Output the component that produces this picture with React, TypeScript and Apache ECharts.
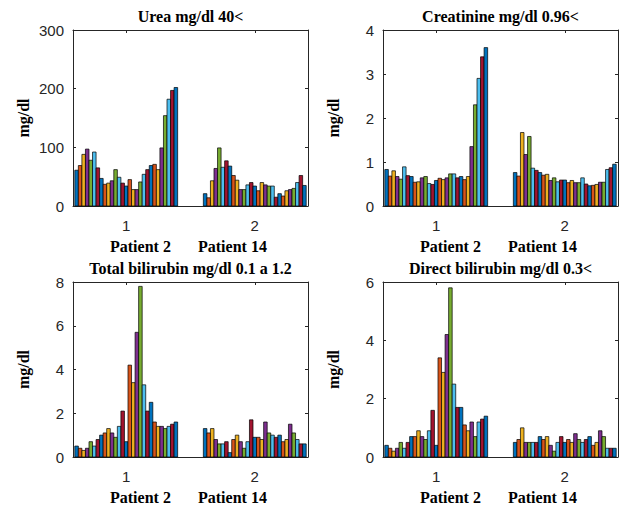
import React, { useEffect, useRef } from 'react';
import * as echarts from 'echarts';

// Groups on the x axis and their tick labels
const GROUPS = [1, 2];
const GROUP_TICK_LABELS = ['1', '2'];
const PATIENT_LABELS = ['Patient 2', 'Patient 14'];

const TITLES = [
  'Urea mg/dl 40<',
  'Creatinine mg/dl 0.96<',
  'Total bilirubin mg/dl 0.1 a 1.2',
  'Direct bilirubin mg/dl 0.3<',
];
const Y_LABEL = 'mg/dl';
const Y_MAX = [300, 4, 8, 6];
const Y_STEP = [100, 1, 2, 2];

// Series values (29 measurements per patient)
const ureaP2 = [61, 69, 88, 97, 78, 92, 65, 47, 37, 39, 43, 62, 49, 39, 34, 45, 28, 28, 41, 54, 62, 69, 71, 62, 99, 154, 182, 197, 202];
const ureaP14 = [21, 14, 43, 64, 99, 66, 77, 68, 52, 44, 28, 28, 36, 40, 34, 26, 40, 36, 34, 34, 15, 21, 17, 26, 28, 30, 40, 52, 35];

const creatP2 = [0.83, 0.68, 0.8, 0.67, 0.61, 0.89, 0.69, 0.67, 0.54, 0.55, 0.64, 0.67, 0.51, 0.49, 0.58, 0.63, 0.6, 0.64, 0.73, 0.73, 0.64, 0.67, 0.6, 0.67, 1.35, 2.3, 2.9, 3.39, 3.6];
const creatP14 = [0.76, 0.68, 1.67, 1.17, 1.58, 0.86, 0.81, 0.76, 0.7, 0.72, 0.58, 0.64, 0.55, 0.59, 0.59, 0.53, 0.58, 0.53, 0.53, 0.64, 0.5, 0.46, 0.47, 0.49, 0.54, 0.54, 0.83, 0.87, 0.95];

const tbiliP2 = [0.5, 0.4, 0.3, 0.4, 0.7, 0.5, 0.8, 1.0, 1.1, 1.3, 1.1, 0.9, 1.4, 2.1, 0.7, 4.2, 3.4, 5.7, 7.8, 3.3, 2.1, 2.5, 1.6, 1.4, 1.4, 1.3, 1.4, 1.5, 1.6];
const tbiliP14 = [1.3, 1.1, 1.3, 0.8, 0.6, 0.6, 0.7, 0.2, 0.8, 1.0, 0.7, 0.4, 0.7, 1.7, 0.9, 0.9, 0.8, 1.6, 1.1, 1.0, 0.9, 1.0, 0.7, 0.8, 1.5, 1.1, 0.8, 0.6, 0.6];

const dbiliP2 = [0.4, 0.3, 0.2, 0.3, 0.5, 0.3, 0.5, 0.7, 0.7, 0.9, 0.7, 0.6, 0.9, 1.6, 0.4, 3.4, 2.9, 4.2, 5.8, 2.5, 1.7, 1.7, 1.1, 0.9, 1.2, 0.7, 1.2, 1.3, 1.4];
const dbiliP14 = [0.5, 0.6, 1.0, 0.5, 0.5, 0.5, 0.5, 0.7, 0.6, 0.7, 0.4, 0.2, 0.5, 0.7, 0.5, 0.6, 0.5, 0.8, 0.6, 0.5, 0.6, 0.7, 0.4, 0.5, 0.9, 0.7, 0.3, 0.3, 0.3];

const PANELS = [
  [ureaP2, ureaP14],
  [creatP2, creatP14],
  [tbiliP2, tbiliP14],
  [dbiliP2, dbiliP14],
];

const COLORS = ['#0072BD', '#D95319', '#EDB120', '#7E2F8E', '#77AC30', '#4DBEEE', '#A2142F'];

const GRIDS = [
  { left: 73, top: 30, width: 235, height: 176 },
  { left: 383, top: 30, width: 235, height: 176 },
  { left: 73, top: 282, width: 235, height: 175 },
  { left: 383, top: 282, width: 235, height: 175 },
];

const X_MIN = 0.586;
const X_MAX = 2.414;
const GROUP_WIDTH = 0.8;
const AX = '#262626';
const SANS = '"Liberation Sans", Arial, sans-serif';
const SERIF = '"Liberation Serif", "Times New Roman", serif';

export default function App() {
  const ref = useRef<HTMLDivElement>(null);
  useEffect(() => {
    if (!ref.current) return;
    const chart = echarts.init(ref.current, undefined, { renderer: 'svg' });
    const xAxis: any[] = [];
    const yAxis: any[] = [];
    const series: any[] = [];
    const title: any[] = [];
    const graphic: any[] = [];
    GRIDS.forEach((g, i) => {
      const lineStyle = { color: AX, width: 1 };
      xAxis.push({
        type: 'value', gridIndex: i, min: X_MIN, max: X_MAX, position: 'bottom',
        axisLine: { show: true, onZero: false, lineStyle },
        axisTick: { show: true, inside: true, length: 3, customValues: GROUPS, lineStyle },
        axisLabel: {
          show: true, customValues: GROUPS, margin: 12, fontSize: 15, color: AX, fontFamily: SANS,
          formatter: (v: number) => GROUP_TICK_LABELS[GROUPS.indexOf(Math.round(v))] ?? '',
        },
        splitLine: { show: false },
      });
      xAxis.push({
        type: 'value', gridIndex: i, min: X_MIN, max: X_MAX, position: 'top',
        axisLine: { show: true, onZero: false, lineStyle },
        axisTick: { show: true, inside: true, length: 3, customValues: GROUPS, lineStyle },
        axisLabel: { show: false },
        splitLine: { show: false },
      });
      yAxis.push({
        type: 'value', gridIndex: i, min: 0, max: Y_MAX[i], interval: Y_STEP[i], position: 'left',
        axisLine: { show: true, onZero: false, lineStyle },
        axisTick: { show: true, inside: true, length: 3, lineStyle },
        axisLabel: { margin: 9, fontSize: 15, color: AX, fontFamily: SANS },
        splitLine: { show: false },
        name: Y_LABEL, nameLocation: 'middle', nameGap: 42,
        nameTextStyle: { fontFamily: SERIF, fontWeight: 'bold', fontSize: 16, color: '#000' },
      });
      yAxis.push({
        type: 'value', gridIndex: i, min: 0, max: Y_MAX[i], interval: Y_STEP[i], position: 'right',
        axisLine: { show: true, onZero: false, lineStyle },
        axisTick: { show: true, inside: true, length: 3, lineStyle },
        axisLabel: { show: false },
        splitLine: { show: false },
      });
      const groups = PANELS[i];
      const nSeries = groups[0].length;
      const data: number[][] = [];
      groups.forEach((vals, gi) => {
        vals.forEach((v, s) => data.push([GROUPS[gi], s, v]));
      });
      series.push({
        type: 'custom', xAxisIndex: 2 * i, yAxisIndex: 2 * i,
        encode: { x: 0, y: 2 },
        data,
        renderItem: (params: any, api: any) => {
          const grp = api.value(0);
          const s = api.value(1);
          const v = api.value(2);
          const bw = GROUP_WIDTH / nSeries;
          const x0 = grp - GROUP_WIDTH / 2 + s * bw;
          const p0 = api.coord([x0, v]);
          const p1 = api.coord([x0 + bw, 0]);
          return {
            type: 'rect',
            shape: { x: p0[0], y: p0[1], width: p1[0] - p0[0], height: p1[1] - p0[1] },
            style: { fill: COLORS[s % COLORS.length], stroke: '#000', lineWidth: 0.7 },
          };
        },
      });
      title.push({
        text: TITLES[i], left: g.left + g.width / 2, top: g.top - 22, textAlign: 'center', padding: 0,
        textStyle: { fontFamily: SERIF, fontWeight: 'bold', fontSize: 16, color: '#000' },
      });
      const ly = g.top + g.height + 40;
      graphic.push({
        type: 'text', x: g.left + 37, y: ly,
        style: { text: PATIENT_LABELS[0], font: `bold 16px ${SERIF}`, fill: '#000', textAlign: 'left', textVerticalAlign: 'middle', align: 'left', verticalAlign: 'middle' },
      });
      graphic.push({
        type: 'text', x: g.left + 125, y: ly,
        style: { text: PATIENT_LABELS[1], font: `bold 16px ${SERIF}`, fill: '#000', textAlign: 'left', textVerticalAlign: 'middle', align: 'left', verticalAlign: 'middle' },
      });
    });
    chart.setOption({
      animation: false,
      backgroundColor: '#fff',
      title,
      grid: GRIDS,
      xAxis,
      yAxis,
      series,
      graphic,
    });
    return () => chart.dispose();
  }, []);
  return <div ref={ref} style={{ position: 'absolute', left: 0, top: 0, width: 620, height: 506 }} />;
}
